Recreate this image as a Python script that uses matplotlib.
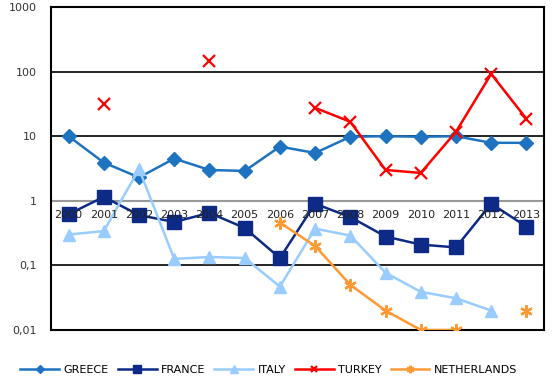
import numpy as np
import matplotlib
matplotlib.use("Agg")
import matplotlib.pyplot as plt
from matplotlib.ticker import FixedLocator, NullLocator

years = ["2000", "2001", "2002", "2003", "2004", "2005", "2006",
         "2007", "2008", "2009", "2010", "2011", "2012", "2013"]
nan = np.nan
greece = [10, 3.9, 2.3, 4.5, 3.0, 2.9, 6.9, 5.5, 9.8, 10, 9.8, 10, 7.9, 7.9]
france = [0.62, 1.15, 0.6, 0.47, 0.65, 0.38, 0.13, 0.9, 0.56, 0.28, 0.21, 0.19, 0.9, 0.4]
italy = [0.30, 0.34, 3.1, 0.126, 0.135, 0.13, 0.047, 0.37, 0.29, 0.077, 0.039, 0.031, 0.02, nan]
turkey = [nan, 32, nan, nan, 147, nan, nan, 27.5, 16.7, 3.0, 2.7, 11.7, 92, 18.6]
netherlands = [nan, nan, nan, nan, nan, nan, 0.46, 0.2, 0.05, 0.02, 0.01, 0.01, nan, 0.02]
ytick_vals = [0.01, 0.1, 1, 10, 100, 1000]
ytick_labels = ["0,01", "0,1", "1", "10", "100", "1000"]

fig = plt.figure(figsize=(5.52, 3.84), dpi=100)
ax = fig.add_axes([51/552, 54/384, 493/552, 323/384])
x = np.arange(len(years))

ax.set_yscale("log")
ax.set_ylim(0.01, 1000)
ax.set_xlim(-0.5, len(years) - 0.5)

# grid lines
for v in [100, 10, 0.1]:
    ax.axhline(v, color="black", lw=1.2, zorder=1)
ax.axhline(1, color="#999999", lw=1.5, zorder=1)

ax.plot(x, greece, color="#1E73C0", lw=1.8, marker="D", ms=7, label="GREECE", zorder=3)
ax.plot(x, france, color="#0D2B86", lw=1.8, marker="s", ms=10, label="FRANCE", zorder=3)
ax.plot(x, italy, color="#99CCFF", lw=1.8, marker="^", ms=9, label="ITALY", zorder=3)
ax.plot(x, turkey, color="#FF0000", lw=1.8, marker="x", ms=8, mew=1.6, label="TURKEY", zorder=4)
ax.plot(x, netherlands, color="#FF9933", lw=1.8, marker=(6, 2, 0), ms=9, mew=1.6,
        label="NETHERLANDS", zorder=3)

for i, y in enumerate(years):
    ax.annotate(y, (i, 1), xytext=(0, -6.5), textcoords="offset points",
                ha="center", va="top", fontsize=8, color="#222222", zorder=6)

ax.yaxis.set_major_locator(FixedLocator(ytick_vals))
ax.yaxis.set_minor_locator(NullLocator())
ax.set_yticklabels(ytick_labels, fontsize=8, color="#333333")
ax.tick_params(axis="y", length=0, pad=10)
ax.set_xticks([])
for s in ax.spines.values():
    s.set_linewidth(1.5)
    s.set_color("black")

leg = fig.legend(loc="center", bbox_to_anchor=(0.487, 0.036), ncol=5, frameon=False,
                 fontsize=8, handlelength=3.5, columnspacing=0.8, handletextpad=0.4,
                 markerscale=0.6)

fig.savefig("out.png", dpi=100)
